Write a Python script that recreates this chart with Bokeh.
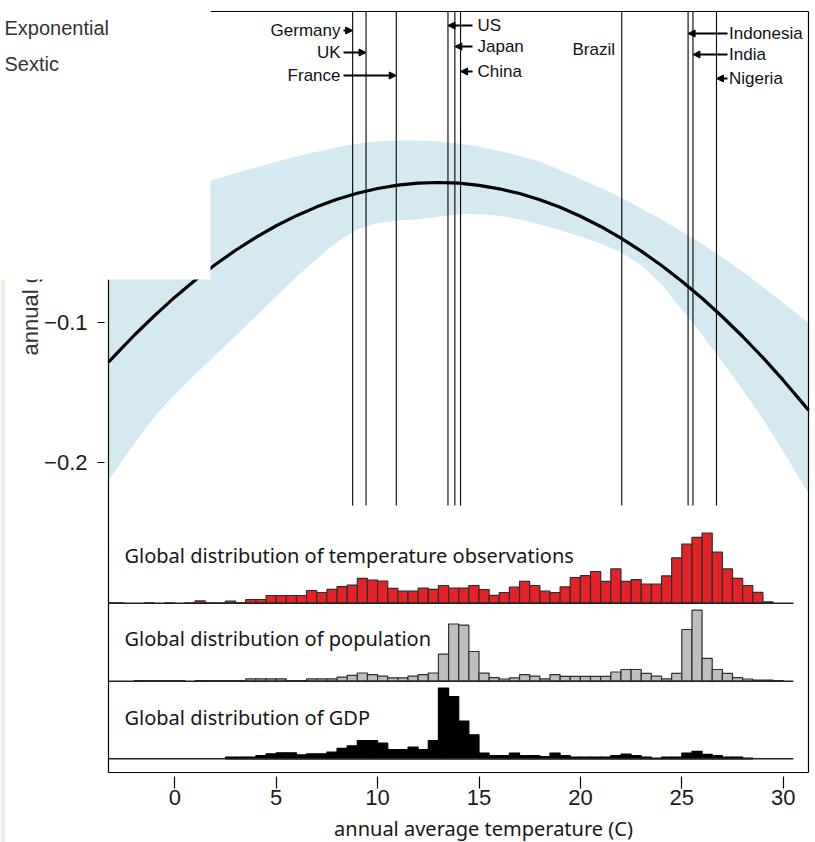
from math import pi
from bokeh.plotting import figure
from bokeh.models import Range1d, FixedTicker, Label, Arrow, NormalHead, BoxAnnotation
from bokeh.embed import file_html
from bokeh.resources import INLINE

# ---------------- data ----------------
bin_width = 0.5
bin_starts = [-3.5 + bin_width * i for i in range(68)]

# relative frequencies (arbitrary units)
temp_obs = [0.4, 0.4, 0, 0, 0.4, 0, 0.4,
            0, 0.4, 2.3, 0.3, 0.3, 2.0, 0.4, 3.7, 3.7, 7.7,
            7.7, 7.7, 7.7, 12.7, 10.7, 13.8, 16.5, 18.0, 24.8, 23.2,
            22.2, 14.8, 12.0, 12.0, 15.0, 13.8, 17.7, 15.2, 15.0, 17.7,
            13.7, 7.8, 10.7, 16.2, 21.8, 17.7, 12.2, 10.5, 16.3, 25.7,
            27.5, 31.7, 21.8, 34.3, 21.8, 23.5, 19.2, 19.2, 27.3, 45.3,
            59.2, 65.8, 70.2, 51.0, 34.3, 24.8, 17.7, 10.8, 1.3, 0,
            0]
population = [0, 0, 0, 0.7, 0.7, 0.7, 0.7,
              0.7, 0, 0.7, 0.7, 0.7, 0.7, 0.7, 2.3, 2.3, 2.3,
              2.3, 0.7, 0.7, 2.3, 2.3, 2.3, 4.0, 5.8, 8.2, 6.5,
              5.0, 3.3, 3.3, 5.0, 6.5, 8.2, 27.0, 57.2, 56.0, 29.7,
              8.0, 3.5, 2.2, 3.3, 6.5, 5.0, 2.3, 6.5, 4.8, 4.8,
              4.8, 4.8, 4.8, 9.2, 11.7, 11.7, 7.8, 5.0, 2.3, 7.8,
              51.7, 71.0, 22.8, 11.7, 7.8, 3.5, 2.2, 1.0, 1.0, 0.7,
              0]
gdp = [0, 0, 0, 0, 0, 0, 0,
       0, 0, 0, 0, 0, 1.7, 1.7, 1.7, 3.3, 5.0,
       6.0, 6.0, 4.0, 5.0, 5.0, 6.7, 10.5, 13.0, 18.3, 18.3,
       15.7, 9.2, 9.2, 11.7, 9.2, 18.3, 70.7, 62.3, 37.8, 24.0,
       5.8, 3.3, 3.3, 5.8, 3.3, 3.3, 2.3, 5.8, 3.3, 1.7,
       1.7, 1.7, 1.7, 3.3, 4.7, 3.3, 1.7, 0.7, 1.7, 1.7,
       5.8, 7.5, 4.5, 3.2, 1.7, 1.7, 0.6, 0, 0, 0,
       0]

curve_t = [-3.27, -3, -2, -1, 0, 1, 2, 3, 4, 5, 6, 7, 8, 9, 10, 11, 12, 13,
           14, 15, 16, 17, 18, 19, 20, 21, 22, 23, 24, 25, 26, 27, 28, 29, 30, 31, 31.25]
curve_y = [-0.1284, -0.1242, -0.1091, -0.0951, -0.0819, -0.0698, -0.0586, -0.0484,
           -0.0392, -0.0309, -0.0237, -0.0174, -0.0120, -0.0077, -0.0043, -0.0019,
           -0.0005, 0.0, -0.0005, -0.0020, -0.0045, -0.0079, -0.0123, -0.0177,
           -0.0241, -0.0314, -0.0397, -0.0490, -0.0593, -0.0705, -0.0827, -0.0959,
           -0.1100, -0.1251, -0.1412, -0.1583, -0.1627]

band_t = [-3.27, -2, -1, 0, 1, 2, 3, 4, 5, 6, 7, 8, 9, 10, 11, 12, 13, 14, 15, 16,
          17, 18, 19, 20, 21, 22, 23, 24, 25, 26, 27, 28, 29, 30, 31, 31.25]
band_hi = [-0.0240, -0.0165, -0.0115, -0.0065, -0.0020, 0.0025, 0.0068, 0.0108, 0.0148,
           0.0185, 0.0220, 0.0252, 0.0277, 0.0293, 0.0300, 0.0300, 0.0293, 0.0278, 0.0255,
           0.0225, 0.0190, 0.0150, 0.0090, 0.0025, -0.0040, -0.0108, -0.0185, -0.0265,
           -0.0350, -0.0440, -0.0535, -0.0635, -0.0745, -0.0860, -0.0975, -0.1000]
band_lo = [-0.2130, -0.1865, -0.1672, -0.1515, -0.1372, -0.1232, -0.1094, -0.0955, -0.0815,
           -0.0675, -0.0545, -0.0425, -0.0335, -0.0290, -0.0272, -0.0262, -0.0245, -0.0228,
           -0.0225, -0.0238, -0.0262, -0.0300, -0.0340, -0.0385, -0.0435, -0.0500, -0.0590,
           -0.0730, -0.0905, -0.1090, -0.1280, -0.1480, -0.1690, -0.1920, -0.2160, -0.2220]

countries = ["Germany", "UK", "France", "US", "Japan", "China",
             "Brazil", "Indonesia", "India", "Nigeria"]
country_temp = [8.77, 9.43, 10.92, 13.47, 13.81, 14.09, 22.04, 25.31, 25.55, 26.71]

x_ticks = [0, 5, 10, 15, 20, 25, 30]
y_ticks = [-0.2, -0.1]
y_tick_labels = ["\u22120.2", "\u22120.1"]

hist_titles = ["Global distribution of temperature observations",
               "Global distribution of population",
               "Global distribution of GDP"]

# ---------------- layout helpers (page pixel -> data) ----------------
PX0, PXS = 174.3, 20.28     # page x of 0 C, px per degree
PY0, PYS = 182.0, 1400.0    # page y of 0 growth, px per unit


def tx(px):
    return (px - PX0) / PXS


def ty(py):
    return (PY0 - py) / PYS


W, H = 815, 842
BOX_L, BOX_R, BOX_T, BOX_B = tx(108), tx(808), ty(11), ty(772)

p = figure(width=W, height=H, output_backend="svg", toolbar_location=None,
           x_range=Range1d(tx(0), tx(W)), y_range=Range1d(ty(H), ty(0)),
           min_border=0, min_border_left=0, min_border_right=0,
           min_border_top=0, min_border_bottom=0)
p.outline_line_color = None
p.xgrid.visible = False
p.ygrid.visible = False
p.background_fill_color = "white"
p.border_fill_color = "white"

# band + country lines + curve
p.varea(x=band_t, y1=band_lo, y2=band_hi, fill_color="#D5E9F1")
p.segment(x0=country_temp, y0=[ty(505)] * len(country_temp), x1=country_temp,
          y1=[BOX_T] * len(country_temp), line_color="black", line_width=1.1)
p.line(curve_t, curve_y, line_color="black", line_width=3.2)

# histograms
hist_specs = [
    (temp_obs, ty(602.7), "#E42328", "#2e2e2e"),
    (population, ty(680.7), "#BEBEBE", "#2e2e2e"),
    (gdp, ty(758.3), "black", "black"),
]
scale = 1.0 / PYS
for vals, base, fc, lc in hist_specs:
    lefts, rights, tops = [], [], []
    for s, v in zip(bin_starts, vals):
        if v <= 0:
            continue
        lefts.append(max(s, BOX_L))
        rights.append(s + bin_width)
        tops.append(base + v * scale)
    p.quad(left=lefts, right=rights, bottom=[base] * len(lefts), top=tops,
           fill_color=fc, line_color=lc, line_width=1.2)
    p.segment(x0=[BOX_L], y0=[base], x1=[bin_starts[-1] + bin_width], y1=[base],
              line_color="#222222", line_width=1.4)

title_rows = [555, 638, 717]
for t, row in zip(hist_titles, title_rows):
    p.add_layout(Label(x=tx(124), y=ty(row), text=t, text_font="Noto Sans",
                       text_font_size="20px", text_baseline="middle", text_align="left",
                       text_color="#161616"))

# visual box
p.segment(x0=[BOX_L, BOX_L, BOX_R, tx(210)], y0=[ty(279), BOX_B, BOX_B, BOX_T],
          x1=[BOX_L, BOX_R, BOX_R, BOX_R], y1=[BOX_B, BOX_B, BOX_T, BOX_T],
          line_color="black", line_width=1.2)

# country labels and arrows
label_rows = {"Germany": 30, "UK": 52, "France": 75, "US": 25, "Japan": 46,
              "China": 71, "Brazil": 49, "Indonesia": 33, "India": 54, "Nigeria": 78}
left_group = ["Germany", "UK", "France"]
mid_group = ["US", "Japan", "China"]
right_group = ["Indonesia", "India", "Nigeria"]
for name, temp in zip(countries, country_temp):
    row = label_rows[name]
    if name in left_group:
        lx, align, tail = tx(340), "right", tx(343)
    elif name in mid_group:
        lx, align, tail = tx(477), "left", tx(472)
    elif name in right_group:
        lx, align, tail = tx(728.5), "left", tx(727)
    else:
        lx, align, tail = tx(572), "left", None
    p.add_layout(Label(x=lx, y=ty(row), text=name, text_font="Liberation Sans",
                       text_font_size="17px", text_align=align, text_baseline="middle",
                       text_color="#111111"))
    if tail is not None:
        p.add_layout(Arrow(end=NormalHead(size=7, fill_color="black", line_color="black",
                                          line_width=1),
                           x_start=tail, y_start=ty(row), x_end=temp, y_end=ty(row),
                           line_color="black", line_width=2))

# axes drawn at fixed positions inside the full-canvas frame
p.xaxis.fixed_location = ty(776)
p.yaxis.fixed_location = tx(104)
p.xaxis.ticker = FixedTicker(ticks=x_ticks)
p.yaxis.ticker = FixedTicker(ticks=y_ticks)
p.yaxis.major_label_overrides = {str(k): v for k, v in zip(y_ticks, y_tick_labels)}
for ax in (p.xaxis, p.yaxis):
    ax.axis_line_color = None
    ax.major_tick_in = 0
    ax.minor_tick_line_color = None
    ax.major_tick_line_color = "black"
    ax.major_tick_line_width = 1.2
    ax.major_label_text_font = "Liberation Sans"
    ax.major_label_text_font_size = "22px"
    ax.major_label_text_color = "#1a1a1a"
p.xaxis.major_tick_out = 12
p.xaxis.major_label_standoff = 1
p.yaxis.major_tick_out = 7
p.yaxis.major_label_standoff = 10

# axis titles
p.add_layout(Label(x=tx(29.5), y=ty(355), text="annual growth rate", angle=pi / 2,
                   text_font="Liberation Sans", text_font_size="22px",
                   text_align="left", text_baseline="middle", text_color="#333333"))
p.add_layout(Label(x=tx(483), y=ty(828), text="annual average temperature (C)",
                   text_font="Noto Sans", text_font_size="20px",
                   text_align="center", text_baseline="middle", text_color="#161616"))

# page decorations: left strip and white overlay box (top-left)
p.add_layout(BoxAnnotation(left=tx(0), right=tx(5), bottom=ty(H), top=ty(279),
                           fill_color="#EEEEE6", fill_alpha=1.0, line_color=None))
p.add_layout(BoxAnnotation(left=tx(0), right=tx(210), bottom=ty(279), top=ty(0),
                           fill_color="white", fill_alpha=1.0, line_color=None))
p.add_layout(Label(x=tx(4), y=ty(27), text="Exponential", text_font="Liberation Sans",
                   text_font_size="20px", text_align="left", text_baseline="middle",
                   text_color="#333333"))
p.add_layout(Label(x=tx(4), y=ty(63), text="Sextic", text_font="Liberation Sans",
                   text_font_size="20px", text_align="left", text_baseline="middle",
                   text_color="#333333"))

open("out.html", "w").write(file_html(p, INLINE))
